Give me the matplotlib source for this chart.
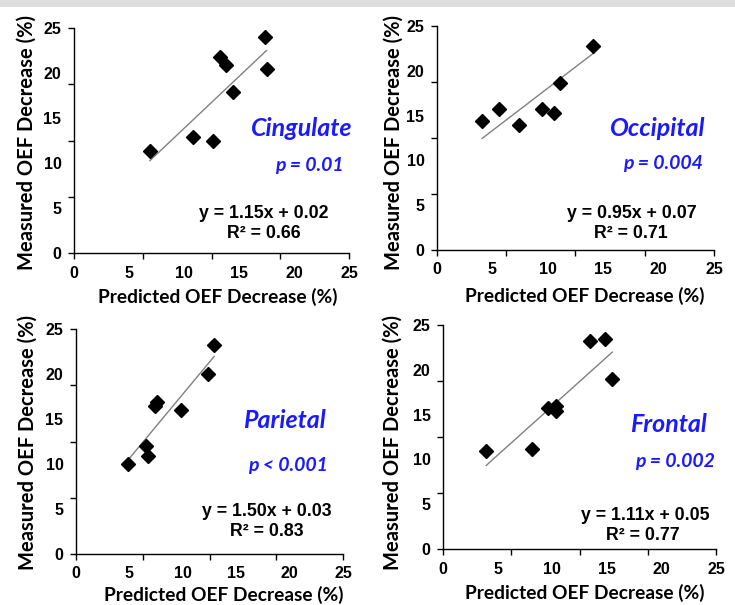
import matplotlib
matplotlib.use("Agg")
import matplotlib.pyplot as plt
import numpy as np

# data
cing_x = [6.9, 10.8, 12.65, 13.26, 13.86, 14.47, 17.4, 17.5]
cing_y = [11.3, 12.9, 12.4, 21.8, 20.85, 17.9, 24.0, 20.5]
cing_trend_x = [6.9, 17.5]
cing_trend_y = [10.26, 22.5]

occ_x = [4.07, 5.57, 7.44, 9.46, 10.54, 11.14, 14.1]
occ_y = [14.4, 15.7, 14.0, 15.7, 15.3, 18.6, 22.75]
occ_trend_x = [4.07, 14.16]
occ_trend_y = [12.45, 22.0]

par_x = [4.9, 6.7, 6.6, 7.4, 7.56, 9.84, 12.4, 12.9]
par_y = [10.0, 10.85, 11.96, 16.5, 16.85, 16.04, 20.0, 23.2]
par_trend_x = [4.9, 12.94]
par_trend_y = [10.48, 21.96]

fro_x = [3.93, 8.14, 9.6, 10.34, 10.34, 13.48, 14.85, 15.46]
fro_y = [10.9, 11.15, 15.7, 16.0, 15.4, 23.2, 23.45, 19.0]
fro_trend_x = [3.96, 15.5]
fro_trend_y = [9.33, 21.97]

regions = ["Cingulate", "Occipital", "Parietal", "Frontal"]
pvals = ["p = 0.01", "p = 0.004", "p < 0.001", "p = 0.002"]
equations = ["y = 1.15x + 0.02", "y = 0.95x + 0.07", "y = 1.50x + 0.03", "y = 1.11x + 0.05"]
r2 = ["R² = 0.66", "R² = 0.71", "R² = 0.83", "R² = 0.77"]

tick_labels = [0, 5, 10, 15, 20, 25]
tick_marks = [0, 6.25, 12.5, 18.75, 25]

W, H = 735, 605
fig = plt.figure(figsize=(W / 100, H / 100), dpi=100)
fig.patch.set_facecolor("white")

# gray strip across the top
fig.add_artist(plt.Rectangle((0, 1 - 7 / H), 1, 7 / H, transform=fig.transFigure,
                             color="#dedede", lw=0))

def px(x, y):
    return x / W, 1 - y / H

blue = "#1a1aff"
lab_font = "Lato"
num_font = "Liberation Sans"

# axes boxes in pixels: left, top, right, bottom
boxes = [(74, 28, 349, 253), (437, 26, 714, 250), (76, 329, 343, 554), (443, 325, 716, 549)]
series = [(cing_x, cing_y, cing_trend_x, cing_trend_y),
          (occ_x, occ_y, occ_trend_x, occ_trend_y),
          (par_x, par_y, par_trend_x, par_trend_y),
          (fro_x, fro_y, fro_trend_x, fro_trend_y)]
# text centres in pixels: name, p, equation, r2
text_pos = [
    [(302, 128), (309, 165), (264, 213), (264, 233)],
    [(658, 129), (663, 163), (632, 214), (631, 234)],
    [(284, 421), (288, 466), (267, 512), (267, 532)],
    [(668, 424), (675, 462), (645, 515), (643, 535)],
]
xlab_pos = [(218, 297), (585, 296), (224, 595), (585, 593)]
ylab_pos = [(27, 142), (394, 142), (28, 442), (393, 442)]

for i in range(4):
    l, t, r, b = boxes[i]
    ax = fig.add_axes([l / W, 1 - b / H, (r - l) / W, (b - t) / H])
    xs, ys, tx, ty = series[i]
    ax.plot(tx, ty, color="#808080", lw=1.0, zorder=2)
    ax.plot(xs, ys, "D", color="black", markersize=6.8, zorder=3, clip_on=False)
    ax.set_xlim(0, 25)
    ax.set_ylim(0, 25)
    for s in ["top", "right"]:
        ax.spines[s].set_visible(False)
    for s in ["left", "bottom"]:
        ax.spines[s].set_linewidth(1.0)
    # labels at 0,5,...; the tick marks themselves sit at quarter intervals
    ax.set_xticks(tick_labels)
    ax.set_yticks(tick_labels)
    ax.set_xticks(tick_marks, minor=True)
    ax.set_yticks(tick_marks, minor=True)
    ax.xaxis.remove_overlapping_locs = False
    ax.yaxis.remove_overlapping_locs = False
    ax.tick_params(which="major", length=0, pad=9)
    ax.tick_params(which="minor", length=4, width=1, direction="out")
    for lbl in ax.get_xticklabels() + ax.get_yticklabels():
        lbl.set_fontfamily(num_font)
        lbl.set_fontweight("bold")
        lbl.set_fontsize(11.5)

    fig.text(*px(*xlab_pos[i]), "Predicted OEF Decrease (%)", family=lab_font,
             weight="bold", fontsize=13.8, ha="center", va="center")
    fig.text(*px(*ylab_pos[i]), "Measured OEF Decrease (%)", family=lab_font,
             weight="bold", fontsize=14.5, ha="center", va="center", rotation=90)

    p_name, p_p, p_eq, p_r = text_pos[i]
    fig.text(*px(*p_name), regions[i], family=lab_font, style="italic", weight="bold",
             fontsize=18, color=blue, ha="center", va="center")
    fig.text(*px(*p_p), pvals[i], family=lab_font, style="italic", weight="bold",
             fontsize=14, color=blue, ha="center", va="center")
    fig.text(*px(*p_eq), equations[i], family=num_font, weight="bold",
             fontsize=12.8, ha="center", va="center")
    fig.text(*px(*p_r), r2[i], family=num_font, weight="bold",
             fontsize=12.8, ha="center", va="center")

fig.savefig("out.png", dpi=100)
